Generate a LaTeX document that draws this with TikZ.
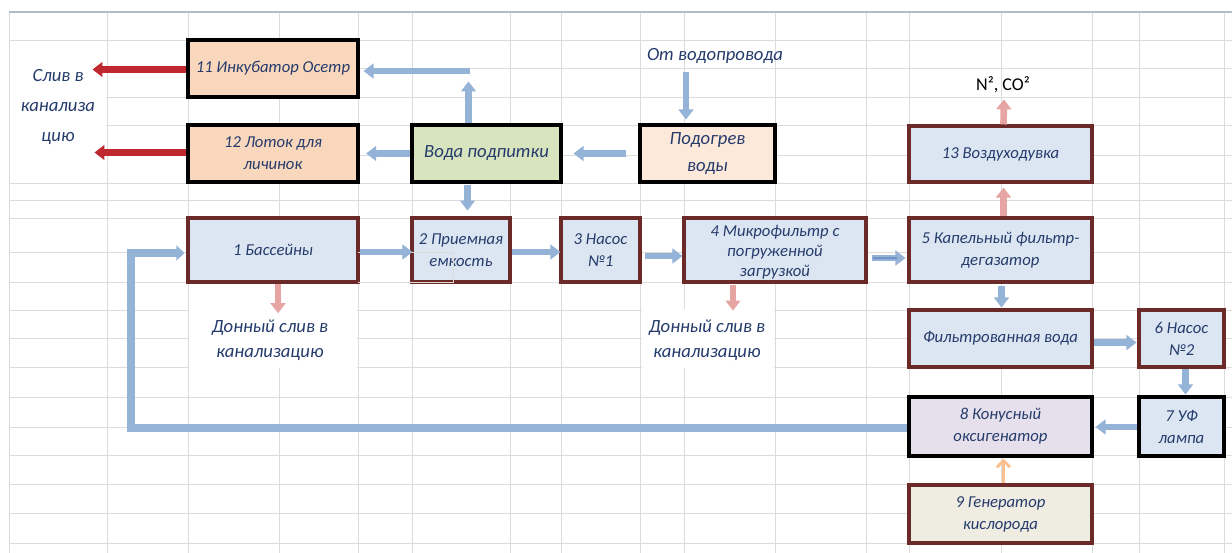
\documentclass[tikz,border=0pt]{standalone}
\usepackage{fontspec}
\setmainfont{Carlito}
\usetikzlibrary{arrows.meta,calc}
\definecolor{txt}{HTML}{253B6B}
\definecolor{gridc}{HTML}{DCDCDC}
\definecolor{hdr}{HTML}{B4BBC3}
\definecolor{arrb}{HTML}{95B3D7}
\definecolor{arrbd}{HTML}{6F93C4}
\definecolor{arrr}{HTML}{C0282F}
\definecolor{arrp}{HTML}{E6A5A3}
\definecolor{arro}{HTML}{FAC090}
\definecolor{brd}{HTML}{6B2A28}
\definecolor{fpeach}{HTML}{F9D7BC}
\definecolor{flpeach}{HTML}{FDE9DA}
\definecolor{fgreen}{HTML}{D8E4BE}
\definecolor{fblue}{HTML}{DCE6F2}
\definecolor{flav}{HTML}{E6E0EC}
\definecolor{fbeige}{HTML}{EFEDE2}
\newcommand\bfnt{\fontsize{12.5}{16.5}\selectfont\itshape}
\newcommand\lfnt{\fontsize{14}{19}\selectfont\itshape}
% box: name, x1, y1, x2, y2, style, text
\newcommand\bx[7]{\node[#6, minimum width={(#4-#2)*0.75pt}, minimum height={(#5-#3)*0.75pt}] (#1) at ({(#2+#4)/2},{(#3+#5)/2}) {#7};}
\begin{document}
\begin{tikzpicture}[x=0.75pt,y=-0.75pt,
  boxk/.style={draw=black,line width=2.3pt,inner sep=0pt,align=center,text=txt,font=\bfnt},
  boxr/.style={draw=brd,line width=2.3pt,inner sep=0pt,align=center,text=txt,font=\bfnt},
  lbl/.style={text=txt,align=center,font=\lfnt,inner sep=0pt},
  barrow/.style={draw=arrb,line width=5pt,-{Triangle[width=11pt,length=7.5pt]}},
  rarrow/.style={draw=arrr,line width=5pt,-{Triangle[width=11pt,length=7.5pt]}},
  parrow/.style={draw=arrp,line width=5pt,-{Triangle[width=11pt,length=7.5pt]}},
  oarrow/.style={draw=arro,line width=2.2pt,-{Straight Barb[width=10pt,length=5pt]}},
  gridline/.style={draw=gridc,line width=0.75pt}
]
\useasboundingbox (0,0) rectangle (1232,553);
\fill[white] (0,0) rectangle (1232,553);
% spreadsheet grid
\foreach \x in {9,107,188,279,358,412,510,561,640,684,775,866,909,1001,1092,1139,1224}
  \draw[gridline] (\x,12) -- (\x,553);
\foreach \y in {40,68,97,125,155,183,200,218,252,282,310,338,367,397,427,455,484,513,543}
  \draw[gridline] (9,\y) -- (1232,\y);
\draw[hdr,line width=1.2pt] (9,12) -- (1232,12);

% text labels (with white background cells)
\fill[white] (10,41) rectangle (106,174);
\node[lbl,font=\fontsize{14}{22.5}\selectfont\itshape] (sliv) at (58,107) {Слив в\\канализа\\цию};
\fill[white] (189,306) rectangle (357,368);
\node[lbl] (don1) at (270,340) {Донный слив в\\канализацию};
\fill[white] (642,309) rectangle (774,368);
\node[lbl] (don2) at (707,340) {Донный слив в\\канализацию};
\node[lbl] (wp) at (715,56) {От водопровода};
\node[inner sep=0pt,font=\fontsize{13.5}{16}\selectfont,text=black] (gas) at (1003,85) {N², CO²};

% boxes
\bx{b11}{188}{40}{358}{97}{boxk,fill=fpeach}{11 Инкубатор Осетр}
\bx{b12}{188}{125}{358}{182}{boxk,fill=fpeach}{12 Лоток для\\личинок}
\bx{bvp}{412}{125}{561}{182}{boxk,fill=fgreen,font=\lfnt}{Вода подпитки}
\bx{bpod}{640}{125}{775}{182}{boxk,fill=flpeach,font=\fontsize{14}{20}\selectfont\itshape}{Подогрев\\воды}
\bx{b13}{909}{126}{1092}{182}{boxr,fill=fblue}{13 Воздуходувка}
\bx{b1}{188}{218}{358}{282}{boxr,fill=fblue}{1 Бассейны}
\bx{b2}{412}{218}{510}{282}{boxr,fill=fblue}{2 Приемная\\емкость}
\bx{b3}{561}{218}{640}{282}{boxr,fill=fblue}{3 Насос\\№1}
\bx{b4}{684}{218}{866}{282}{boxr,fill=fblue}{}
\node[text=txt,align=center,inner sep=0pt,font=\fontsize{12.5}{15}\selectfont\itshape] (b4t) at (775,252.5) {4 Микрофильтр с\\погруженной\\загрузкой};
\bx{b5}{909}{218}{1092}{282}{boxr,fill=fblue}{5 Капельный фильтр-\\дегазатор}
\bx{bf}{909}{310}{1092}{367}{boxr,fill=fblue}{Фильтрованная вода}
\bx{b6}{1139}{310}{1224}{367}{boxr,fill=fblue}{6 Насос\\№2}
\bx{b7}{1139}{397}{1224}{456}{boxk,fill=fblue}{7 УФ\\лампа}
\bx{b8}{909}{397}{1092}{456}{boxk,fill=flav}{8 Конусный\\оксигенатор}
\bx{b9}{909}{485}{1092}{543}{boxr,fill=fbeige}{9 Генератор\\кислорода}
% faint cell outline over box 2
\draw[gridc,line width=0.75pt] (358,252) -- (453,252) -- (453,282) -- (358,282);

% blue arrows
\coordinate (t11) at (470,71);
\draw[barrow] (t11) -- ([xshift=3pt]t11 -| b11.east);
\draw[barrow] ($(bvp.north)+(-18,0)$) -- ($(bvp.north)+(-18,-42)$);
\draw[barrow] (bvp.west) -- ([xshift=5pt]bvp.west -| b12.east);
\draw[barrow] ($(bpod.west)+(-12,0)$) -- ($(bvp.east)+(11,0)$);
\draw[barrow] ($(wp.south)+(-29,8)$) -- ($(bpod.north)+(-21.5,-4)$);
\draw[barrow] ($(bvp.south)+(-19,1)$) -- ($(bvp.south)+(-19,27)$);
\draw[barrow] ($(b1.east)+(0,2)$) -- ($(b2.west)+(2,2)$);
\draw[barrow] ($(b2.east)+(0,2)$) -- ($(b3.west)+(1,2)$);
\draw[barrow] ($(b3.east)+(3,6)$) -- ($(b4.west)+(0,6)$);
\draw[barrow] ($(b4.east)+(4,8)$) -- ($(b5.west)+(-2,8)$);
\draw[arrbd,line width=0.8pt] ($(b4.east)+(5,8)$) -- ($(b5.west)+(-10,8)$);
\draw[barrow] ($(b5.south)+(1,2)$) -- ($(bf.north)+(1,-1)$);
\draw[barrow] ($(bf.east)+(0,4)$) -- ($(b6.west)+(-1,4)$);
\draw[barrow] ($(b6.south)+(4,0)$) -- ($(b7.north)+(4,-1)$);
\draw[barrow] ($(b7.west)+(0,0.5)$) -- ($(b8.east)+(2,0.5)$);
\coordinate (rc1) at (131,428);
\coordinate (rc2) at (131,253);
\draw[draw=arrb,line width=6pt,-{Triangle[width=11pt,length=6pt]}] ($(b8.west)+(0,1.5)$) -- (rc1) -- (rc2) -- ($(b1.west)+(-2,3)$);

% pink arrows
\draw[parrow] ($(b1.south)+(5,0)$) -- ($(don1.north)+(8,-6)$);
\draw[parrow] ($(b4.south)+(-42,1)$) -- ($(b4.south)+(-42,27)$);
\draw[parrow] ($(b5.north)+(3,0)$) -- ($(b13.south)+(3,4)$);
\draw[parrow] ($(b13.north)+(3,0)$) -- ($(gas.south)+(1,6)$);

% red arrows
\draw[rarrow] ($(b11.west)+(0,1)$) -- ($(b11.west)+(-94,1)$);
\draw[rarrow] ($(b12.west)+(0,-1)$) -- ($(b12.west)+(-92,-1)$);

% orange arrow
\draw[oarrow] ($(b9.north)+(3,0)$) -- ($(b8.south)+(3,1)$);
\end{tikzpicture}
\end{document}
